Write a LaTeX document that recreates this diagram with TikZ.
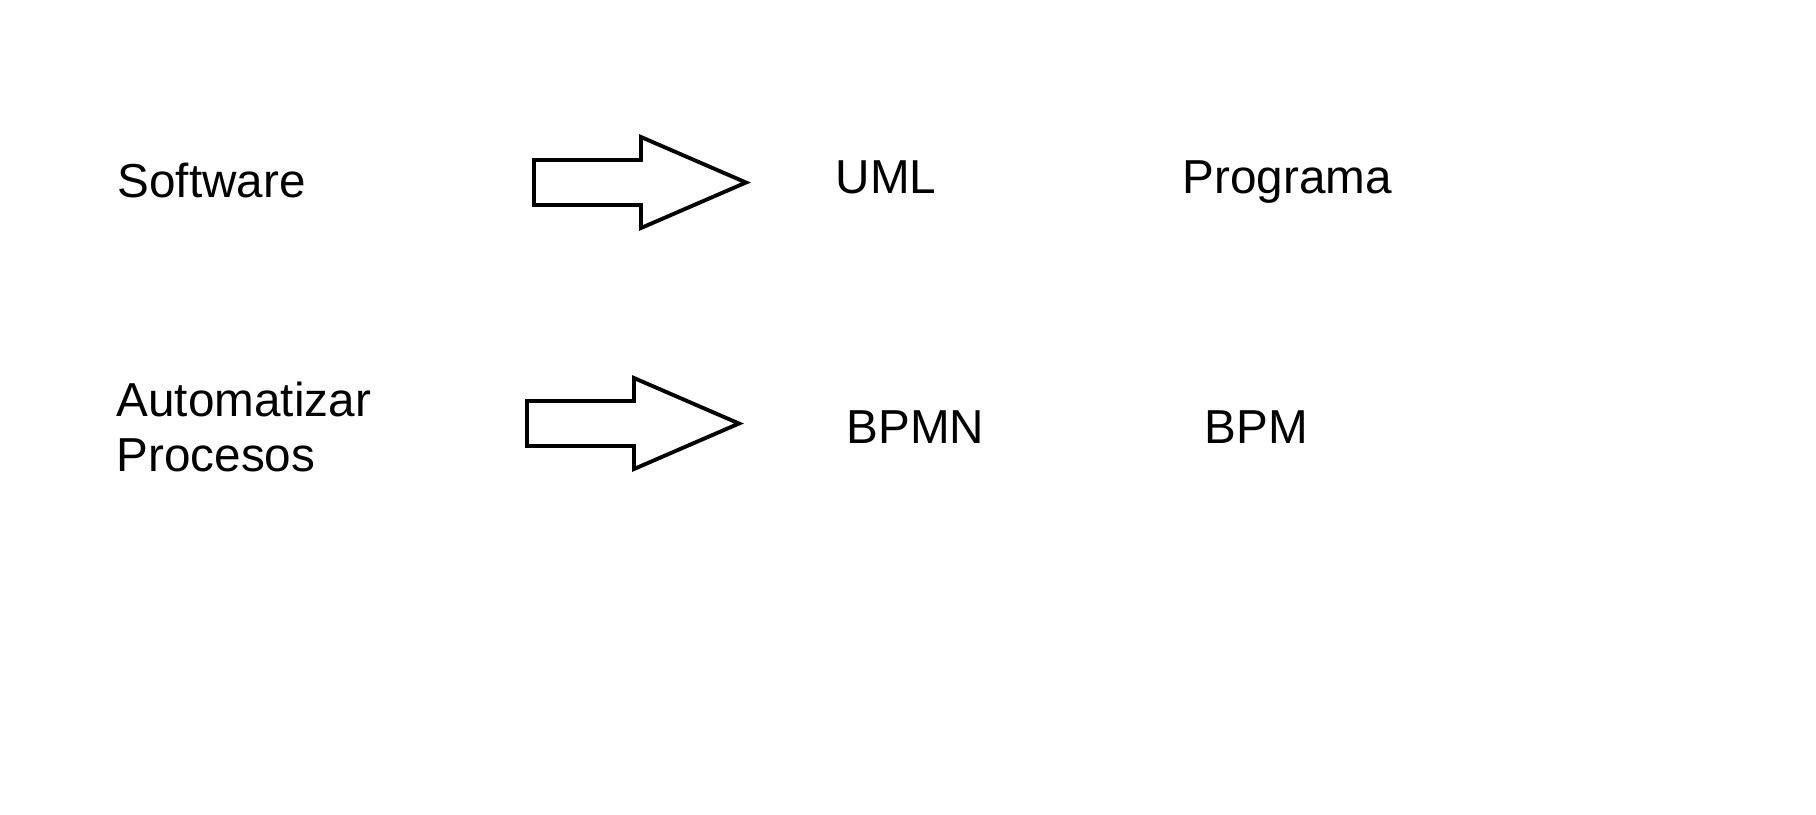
\documentclass[tikz,border=0pt]{standalone}
\usepackage{fontspec}
\setmainfont{Liberation Sans}
\usepackage{tikz}
\usetikzlibrary{calc}
\usetikzlibrary{positioning}
\tikzset{>=latex}
\tikzstyle{word} = [inner sep=0pt, anchor=base west, font=\fontsize{13.55}{15.4}\selectfont]
\tikzstyle{bigarrow} = [draw=black, line width=1.1pt]

\begin{document}
\begin{tikzpicture}[x=0.01cm, y=-0.01cm]
\useasboundingbox (0,0) rectangle (1816,814);
\node [word] (Soft) at (117, 197) {Software};
\node [word, align=left] (Auto) at (116, 471) {Automatizar\\Procesos};
\node [word] (UML) at (835, 193) {UML};
\node [word] (Prog) at (1182, 193) {Programa};
\node [word] (BPMN) at (846, 443) {BPMN};
\node [word] (BPM) at (1204, 443) {BPM};
% block arrows
\foreach \x/\y in {534/182.5, 527/423.5}
  \draw [bigarrow] (\x, \y) ++(0, -22.5) -- ++(107, 0) -- ++(0, -23) -- ++(105, 45.5)
    -- ++(-105, 45.5) -- ++(0, -23) -- ++(-107, 0) -- cycle;
\end{tikzpicture}
\end{document}
